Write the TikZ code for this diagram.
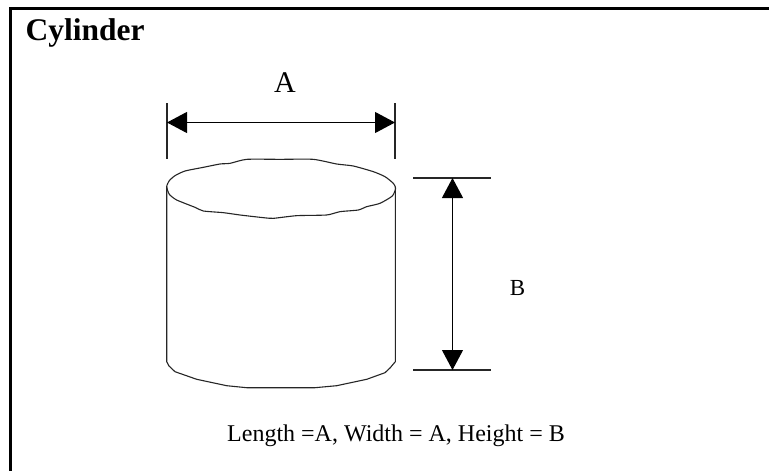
\documentclass[tikz,border=0pt]{standalone}
\usepackage{fontspec}
\setmainfont{Liberation Serif}
\usetikzlibrary{arrows.meta}
\tikzset{
  edge/.style={line width=1.1pt,black!85},
  frameline/.style={line width=2.6pt,black},
  dim/.style={line width=1pt,black,{Triangle[length=20pt,width=21pt]}-{Triangle[length=20pt,width=21pt]}},
  lab/.style={inner sep=0pt,anchor=base,text=black}
}
\begin{document}
\begin{tikzpicture}[x=1pt,y=-1pt]
\useasboundingbox (0,0) rectangle (769,471);
\fill[white] (0,0) rectangle (769,471);
% frame
\coordinate (fb) at (10.5,471);
\coordinate (fc) at (10.5,8.2);
\coordinate (fr) at (769,8.2);
\draw[frameline,line join=miter] (fb) -- (fc) -- (fr);
% labels
\node[lab,font=\bfseries\fontsize{31.5}{31.5}\selectfont,anchor=base west] (title) at (25.5,40) {Cylinder};
\node[lab,font=\fontsize{30}{30}\selectfont] (la) at (285,92) {A};
\node[lab,font=\fontsize{23}{23}\selectfont] (lb) at (517.5,295) {B};
\node[lab,font=\fontsize{24}{24}\selectfont] (cap) at (396,441) {Length =A, Width = A, Height = B};
% cylinder top, coordinates taken at 3x from the origin (140,60)
\begin{scope}[shift={(140,60)},x=0.33333pt,y=-0.33333pt]
\draw[edge,line join=round] plot[smooth cycle,tension=0.35] coordinates {
  (80,380) (88,362) (105,347) (135,333) (190,322) (240,312) (270,310) (320,298) (420,298) (520,298)
  (590,312) (640,318) (700,335) (735,350) (760,370) (767,385) (757,408) (720,430) (680,440) (655,450)
  (600,455) (560,465) (470,467) (400,475) (370,473) (300,465) (250,458) (190,453) (165,442) (110,420) (88,403)};
\end{scope}
% cylinder body
\draw[edge,line join=round]
  (166.7,186.7) -- (166.7,361.7) -- (169,366) -- (175,371.7) -- (196.7,379.3) -- (226.7,385.7) -- (246.7,387.7)
  -- (315,387.7) -- (336.7,385.7) -- (366.7,379.3) -- (385,372.7) -- (390,368) -- (395.3,361.7) -- (395.3,186.7);
% dimension A
\coordinate (a1t) at (167,103);
\coordinate (a1b) at (167,159);
\coordinate (a2t) at (395,103);
\coordinate (a2b) at (395,159);
\coordinate (a1m) at (167,122.5);
\coordinate (a2m) at (395,122.5);
\draw[edge] (a1t) -- (a1b);
\draw[edge] (a2t) -- (a2b);
\draw[dim] (a1m) -- (a2m);
% dimension B
\coordinate (b1l) at (413,178);
\coordinate (b1r) at (490.5,178);
\coordinate (b2l) at (413,370);
\coordinate (b2r) at (490.5,370);
\coordinate (b1m) at (452.5,178);
\coordinate (b2m) at (452.5,370);
\draw[edge] (b1l) -- (b1r);
\draw[edge] (b2l) -- (b2r);
\draw[dim] (b1m) -- (b2m);
\end{tikzpicture}
\end{document}
